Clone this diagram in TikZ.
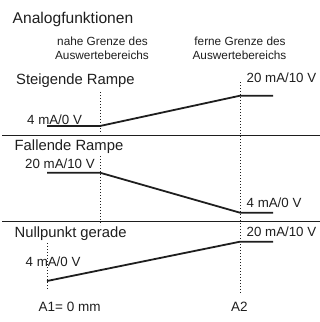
\documentclass[tikz,border=0pt]{standalone}
\usepackage{fontspec}
\setmainfont{Liberation Sans}
\definecolor{ink}{HTML}{1E1E1E}
\begin{document}
\begin{tikzpicture}[x=1pt,y=-1pt,
  txt/.style={inner sep=0pt, anchor=base west, text=ink},
  ctxt/.style={inner sep=0pt, anchor=base, text=ink},
  title/.style={txt, font=\fontsize{15.6}{18}\selectfont},
  sect/.style={txt, font=\fontsize{14.8}{17}\selectfont},
  val/.style={txt, font=\fontsize{13.3}{15}\selectfont},
  small/.style={ctxt, font=\fontsize{11.8}{14}\selectfont},
  axis/.style={ctxt, font=\fontsize{13.5}{15}\selectfont},
  curve/.style={draw=ink, line width=1.8pt},
  sep/.style={draw=ink, line width=1.0pt},
  guide/.style={draw=ink, line width=0.8pt, dash pattern=on 1pt off 2pt}]
\useasboundingbox (0,0) rectangle (320,322);

% titles
\node[title] (t) at (12.5,23) {Analogfunktionen};
\node[small] (n1) at (102.5,45.5) {nahe Grenze des};
\node[small] (n2) at (102,59.5) {Auswertebereichs};
\node[small] (f1) at (240,45.5) {ferne Grenze des};
\node[small] (f2) at (239.5,59.5) {Auswertebereichs};

% guide lines
\coordinate (g1t) at (100,92);
\coordinate (g1m) at (100,133);
\coordinate (g1n) at (100,156);
\coordinate (g1b) at (100,225);
\coordinate (g2t) at (240,82);
\coordinate (g2b) at (240,294);
\coordinate (g0t) at (47,243);
\coordinate (g0b) at (47,290);
\draw[guide] (g1t) -- (g1m);
\draw[guide] (g1n) -- (g1b);
\draw[guide] (g2t) -- (g2b);
\draw[guide] (g0t) -- (g0b);

% separators
\coordinate (s1a) at (2,135);
\coordinate (s1b) at (320,135);
\coordinate (s2a) at (2,221.7);
\coordinate (s2b) at (320,221.7);
\draw[sep] (s1a) -- (s1b);
\draw[sep] (s2a) -- (s2b);

% Steigende Rampe
\node[sect] (sr) at (16,84) {Steigende Rampe};
\node[val] (sr20) at (246.5,82.5) {20 mA/10 V};
\node[val] (sr4) at (27,124) {4 mA/0 V};
\coordinate (a1) at (47,126);
\coordinate (a2) at (100,126);
\coordinate (a3) at (240,95.7);
\coordinate (a4) at (273,95.7);
\draw[curve] (a1) -- (a2) -- (a3) -- (a4);

% Fallende Rampe
\node[sect] (fr) at (14.5,150.5) {Fallende Rampe};
\node[val] (fr20) at (25,168) {20 mA/10 V};
\node[val] (fr4) at (246.5,207) {4 mA/0 V};
\coordinate (b1) at (47,172.7);
\coordinate (b2) at (100,172.7);
\coordinate (b3) at (240,212.7);
\coordinate (b4) at (273,212.7);
\draw[curve] (b1) -- (b2) -- (b3) -- (b4);

% Nullpunkt gerade
\node[sect] (ng) at (14.5,237.7) {Nullpunkt gerade};
\node[val] (ng20) at (246.5,236.5) {20 mA/10 V};
\node[val] (ng4) at (25.5,266.5) {4 mA/0 V};
\coordinate (c1) at (47,281);
\coordinate (c2) at (240,241.7);
\coordinate (c3) at (273,241.7);
\draw[curve] (c1) -- (c2) -- (c3);

% axis labels
\node[txt, font=\fontsize{13.5}{15}\selectfont] (A1) at (38.5,311) {A1= 0 mm};
\node[axis] (A2) at (239.5,311) {A2};
\end{tikzpicture}
\end{document}
